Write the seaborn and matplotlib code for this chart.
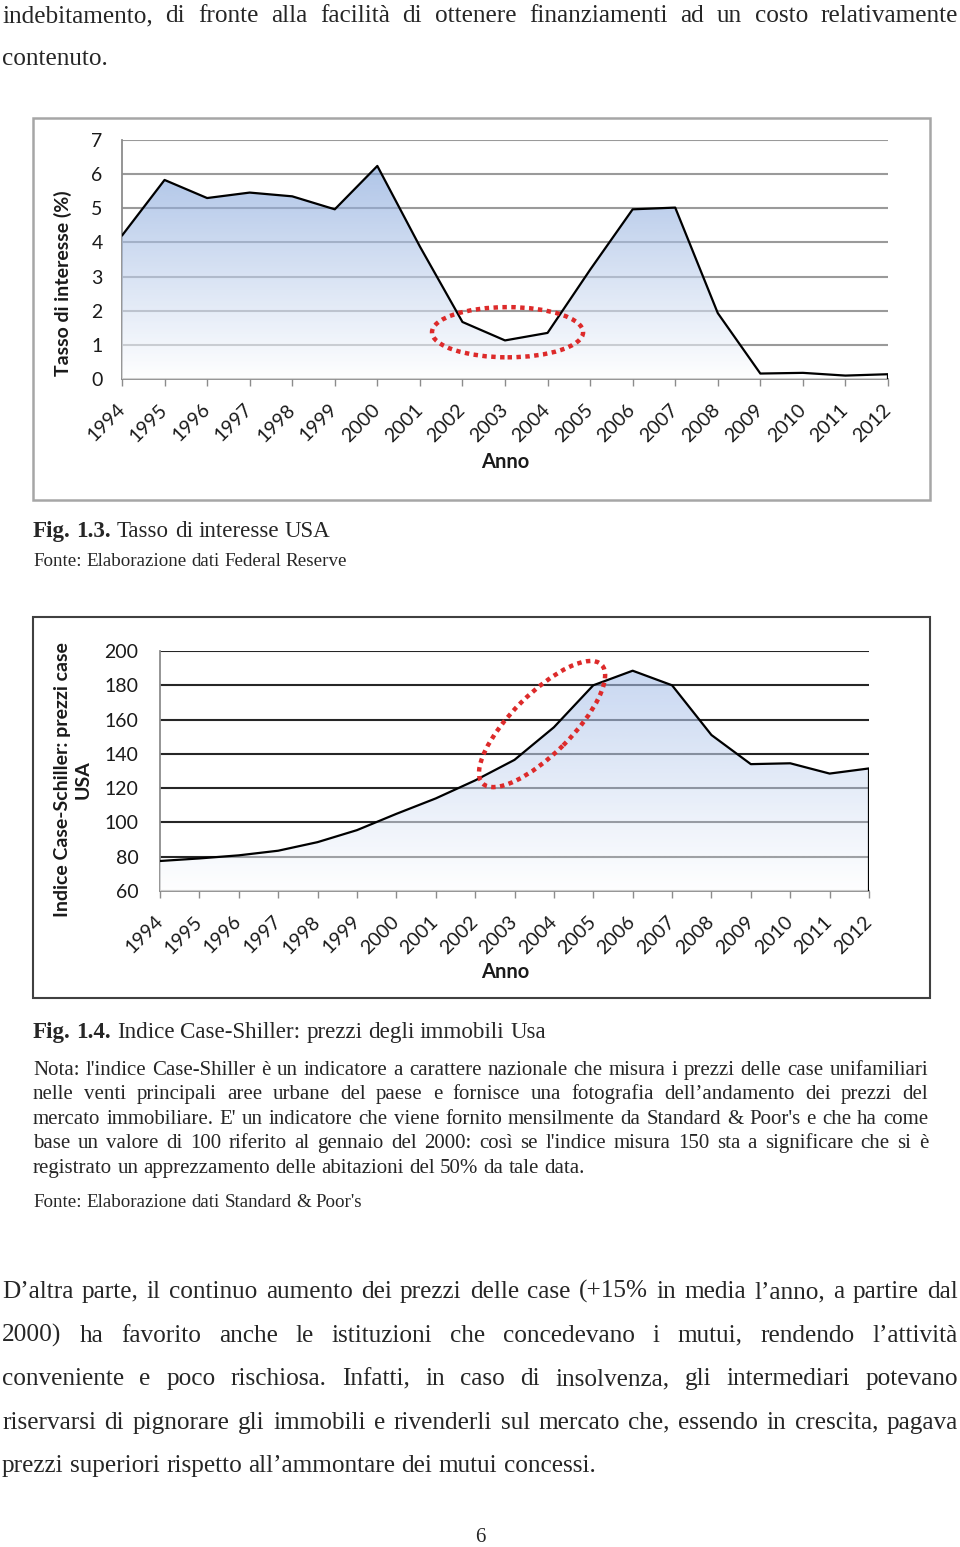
import numpy as np
import pandas as pd
import matplotlib
matplotlib.use("Agg")
import matplotlib.pyplot as plt
import seaborn as sns
from matplotlib.patches import Ellipse, Rectangle
from matplotlib import transforms
from matplotlib.colors import to_rgb

# -----------------------------
# Data
# -----------------------------
anni = list(range(1994, 2013))
tasso_interesse = [4.2, 5.83, 5.3, 5.46, 5.35, 4.97, 6.24, 3.88, 1.67, 1.13,
                   1.35, 3.2, 4.97, 5.02, 1.93, 0.16, 0.18, 0.10, 0.14]
case_shiller = [77.5, 79.0, 80.8, 83.5, 88.5, 95.5, 105.0, 114.0, 124.5, 136.5,
                155.5, 180.0, 188.5, 180.0, 151.0, 134.0, 134.5, 128.5, 131.5]

testo_inizio = [
    "indebitamento, di fronte alla facilità di ottenere finanziamenti ad un costo relativamente",
    "contenuto.",
]
nota = [
    "Nota: l'indice Case-Shiller è un indicatore a carattere nazionale che misura i prezzi delle case unifamiliari",
    "nelle venti principali aree urbane del paese e fornisce una fotografia dell’andamento dei prezzi del",
    "mercato immobiliare. E' un indicatore che viene fornito mensilmente da Standard & Poor's e che ha come",
    "base un valore di 100 riferito al gennaio del 2000: così se l'indice misura 150 sta a significare che si è",
    "registrato un apprezzamento delle abitazioni del 50% da tale data.",
]
testo_fine = [
    "D’altra parte, il continuo aumento dei prezzi delle case (+15% in media l’anno, a partire dal",
    "2000) ha favorito anche le istituzioni che concedevano i mutui, rendendo l’attività",
    "conveniente e poco rischiosa. Infatti, in caso di insolvenza, gli intermediari potevano",
    "riservarsi di pignorare gli immobili e rivenderli sul mercato che, essendo in crescita, pagava",
    "prezzi superiori rispetto all’ammontare dei mutui concessi.",
]

W, H = 960, 1547
SERIF = "Liberation Serif"
SANS = ["Lato", "DejaVu Sans"]

sns.set_style("white")
plt.rcParams["font.family"] = SANS


def fx(px):
    return px / W


def fy(px):
    return 1 - px / H


fig = plt.figure(figsize=(W / 100, H / 100), dpi=100)
renderer = fig.canvas.get_renderer()


def write_line(text, y, x0, x1, size, justify=True, weight="normal"):
    words = text.split()
    arts = [fig.text(0, fy(y), w, fontsize=size, family=SERIF, va="baseline",
                     weight=weight) for w in words]
    widths = [a.get_window_extent(renderer).width for a in arts]
    if justify and len(words) > 1:
        gap = (x1 - x0 - sum(widths)) / (len(words) - 1)
    else:
        gap = size * 100 / 72 * 0.25
    x = x0
    for a, w in zip(arts, widths):
        a.set_x(fx(x))
        x += w + gap
    return x


def area_chart(ax, valori, ymin, ymax, top_rgb, grid_color, ticks):
    df = pd.DataFrame({"anno": anni, "valore": valori})
    sns.lineplot(data=df, x="anno", y="valore", color="black", lw=1.6,
                 ax=ax, zorder=4)
    poly = ax.fill_between(df["anno"], df["valore"], ymin,
                           facecolor="none", edgecolor="none")
    t = np.linspace(0, 1, 256)[:, None]
    top = np.array(to_rgb(top_rgb))
    grad = np.ones((256, 1, 4))
    grad[:, 0, :3] = (1 - t) * 1.0 + t * top
    grad[:, 0, 3] = 0.6
    im = ax.imshow(grad, extent=[anni[0], anni[-1], ymin, ymax],
                   origin="lower", aspect="auto", zorder=3,
                   interpolation="bilinear")
    im.set_clip_path(poly.get_paths()[0], transform=ax.transData)
    ax.vlines(anni[-1], ymin, valori[-1], color="black", lw=1.6, zorder=4)

    ax.set_xlim(anni[0], anni[-1])
    ax.set_ylim(ymin, ymax)
    ax.set_yticks(ticks)
    ax.set_axisbelow(True)
    ax.yaxis.grid(True, color=grid_color, lw=1.5)
    ax.xaxis.grid(False)
    ax.set_xticks(anni)
    ax.set_xticklabels([str(a) for a in anni], rotation=45, ha="right",
                       va="center", rotation_mode="anchor")
    ax.tick_params(axis="x", length=5, width=1, color="#8c8c8c", pad=15,
                   labelsize=14, labelcolor="#1a1a1a", direction="out",
                   bottom=True)
    ax.tick_params(axis="y", length=0, labelsize=14, labelcolor="#1a1a1a")
    ax.set_xlabel("")
    ax.set_ylabel("")
    for s in ["top", "right"]:
        ax.spines[s].set_visible(False)
    for s in ["left", "bottom"]:
        ax.spines[s].set_color("#8c8c8c")
        ax.spines[s].set_linewidth(1.3)


# -----------------------------
# Top text
# -----------------------------
write_line(testo_inizio[0], 22, 2, 958, 18.2)
write_line(testo_inizio[1], 65, 2, 958, 18.2, justify=False)

# -----------------------------
# Fig. 1.3 - Tasso di interesse USA
# -----------------------------
fig.add_artist(Rectangle((fx(33), fy(500)), 897 / W, 382 / H,
                         transform=fig.transFigure, fill=False,
                         edgecolor="#a6a6a6", lw=1.8))
ax1 = fig.add_axes([fx(122), fy(379), (888 - 122) / W, (379 - 140) / H])
area_chart(ax1, tasso_interesse, 0, 7, "#6b93d4", "#9a9a9a", range(0, 8))
ax1.tick_params(axis="y", pad=14)
ax1.add_patch(Ellipse((2003.06, 1.37), 3.55, 1.47, fill=False,
                      edgecolor="#dd2a2a", lw=3.2, linestyle=(0, (1, 1)),
                      zorder=6))
fig.text(fx(63), fy(283), "Tasso di interesse (%)", rotation=90,
         ha="center", va="center", fontsize=14, weight="bold",
         color="#1a1a1a")
fig.text(fx(505), fy(462), "Anno", ha="center", va="center", fontsize=14.5,
         weight="bold", color="#1a1a1a")

x = write_line("Fig. 1.3.", 537, 33, 958, 16.6, justify=False, weight="bold")
write_line("Tasso di interesse USA", 537, x, 958, 16.6, justify=False)
write_line("Fonte: Elaborazione dati Federal Reserve", 566, 33, 958, 13.7,
           justify=False)

# -----------------------------
# Fig. 1.4 - Indice Case-Shiller
# -----------------------------
fig.add_artist(Rectangle((fx(33), fy(998)), 897 / W, 381 / H,
                         transform=fig.transFigure, fill=False,
                         edgecolor="#404040", lw=1.5))
ax2 = fig.add_axes([fx(160), fy(891), (869 - 160) / W, (891 - 651) / H])
area_chart(ax2, case_shiller, 60, 200, "#9db8e6", "#262626",
           range(60, 201, 20))
ax2.tick_params(axis="y", pad=15.5)
tr = fig.dpi_scale_trans + transforms.ScaledTranslation(2003.7, 157.4,
                                                        ax2.transData)
ax2.add_patch(Ellipse((0, 0), 1.68, 0.6, angle=45, fill=False,
                      edgecolor="#dd2a2a", lw=3.2, linestyle=(0, (1, 1)),
                      transform=tr, zorder=6, clip_on=False))
fig.text(fx(73), fy(780), "Indice Case-Schiller: prezzi case\nUSA",
         rotation=90, ha="center", va="center", fontsize=14,
         weight="bold", color="#1a1a1a", multialignment="center",
         linespacing=1.25)
fig.text(fx(505), fy(972), "Anno", ha="center", va="center", fontsize=14.5,
         weight="bold", color="#1a1a1a")

x = write_line("Fig. 1.4.", 1038, 33, 958, 16.6, justify=False, weight="bold")
write_line("Indice Case-Shiller: prezzi degli immobili Usa", 1038, x, 958,
           16.6, justify=False)

for i, riga in enumerate(nota):
    write_line(riga, 1075 + i * 24.4, 33, 928, 15,
               justify=(i < len(nota) - 1))
write_line("Fonte: Elaborazione dati Standard & Poor's", 1207, 33, 958, 13.7,
           justify=False)

# -----------------------------
# Bottom paragraph
# -----------------------------
for i, riga in enumerate(testo_fine):
    write_line(riga, 1298 + i * 43.6, 2, 958, 18.2,
               justify=(i < len(testo_fine) - 1))

fig.text(fx(480), fy(1542), "6", ha="center", va="baseline", fontsize=15,
         family=SERIF)

fig.savefig("out.png", dpi=100)
plt.close(fig)
